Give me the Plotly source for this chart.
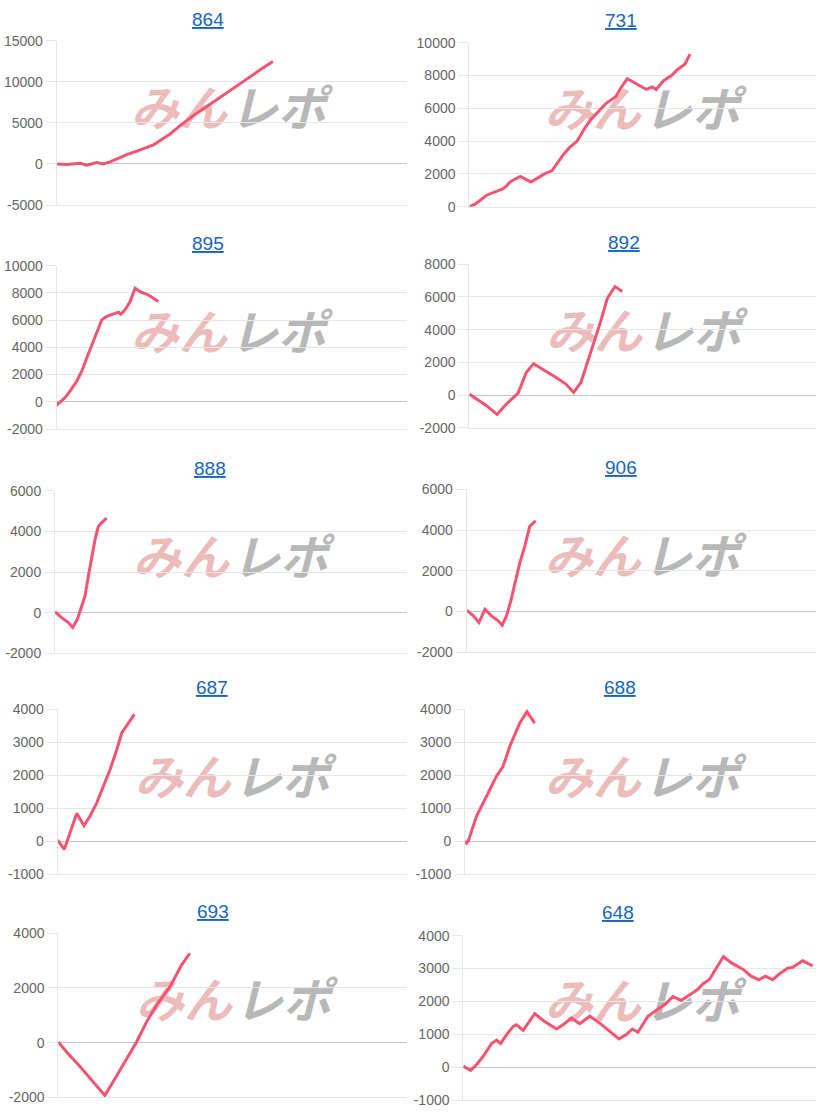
import plotly.graph_objects as go

W, H = 818, 1115

# ---------------- data (x = games, y = coin difference) ----------------
titles = ["864", "731", "895", "892", "888", "906", "687", "688", "693", "648"]

x_864 = [0, 257, 600, 771, 1029, 1200, 1371, 1543, 1800, 2057, 2314, 2486, 2657, 2914,
         3171, 3514, 3857, 4200, 4543, 4886, 5229, 5554]
y_864 = [0, -80, 80, -160, 160, 0, 240, 610, 1140, 1550, 2030, 2320, 2840, 3650,
         4670, 5890, 6980, 8120, 9260, 10350, 11450, 12460]

x_731 = [0, 150, 450, 620, 750, 880, 960, 1050, 1200, 1330, 1600, 1750, 1950, 2150, 2300,
         2450, 2600, 2800, 2900, 3000, 3150, 3350, 3550, 3800, 3950, 4100, 4300, 4600,
         4750, 4850, 5050, 5250, 5400, 5600, 5730]
y_731 = [0, 150, 700, 850, 1000, 1100, 1250, 1500, 1700, 1850, 1500, 1700, 2000, 2200, 2700,
         3200, 3600, 4000, 4400, 4800, 5300, 5800, 6300, 6700, 7300, 7800, 7550, 7150,
         7300, 7150, 7700, 8000, 8350, 8700, 9300]

x_895 = [0, 17, 214, 343, 514, 643, 771, 900, 1029, 1157, 1286, 1457, 1586, 1646, 1757,
         1886, 2014, 2143, 2357, 2614]
y_895 = [0, -200, 300, 780, 1510, 2240, 3220, 4200, 5170, 6020, 6270, 6440, 6590, 6440, 6760,
         7370, 8340, 8100, 7850, 7370]

x_892 = [0, 189, 447, 722, 963, 1264, 1479, 1668, 1908, 2252, 2510, 2708, 2897, 3026, 3198,
         3413, 3585, 3782, 3971]
y_892 = [60, -240, -650, -1190, -550, 100, 1380, 1920, 1580, 1070, 670, 160, 770, 1680, 2900,
         4520, 5930, 6640, 6340]

x_888 = [0, 170, 341, 452, 571, 656, 767, 852, 938, 1023, 1108, 1193, 1321]
y_888 = [50, -245, -490, -730, -330, 160, 815, 1790, 2770, 3590, 4240, 4430, 4650]

x_906 = [0, 171, 316, 470, 641, 812, 915, 1026, 1137, 1265, 1368, 1496, 1624, 1778]
y_906 = [65, -210, -540, 110, -210, -455, -670, -210, 520, 1580, 2390, 3200, 4180, 4455]

x_687 = [0, 172, 318, 490, 679, 834, 1006, 1178, 1350, 1521, 1650, 1822, 1977]
y_687 = [30, -250, 250, 840, 470, 760, 1160, 1660, 2170, 2770, 3280, 3580, 3850]

x_688 = [0, 40, 85, 297, 552, 807, 977, 1147, 1402, 1589, 1785]
y_688 = [0, -60, 0, 760, 1360, 1970, 2270, 2870, 3580, 3930, 3580]

x_693 = [0, 215, 559, 903, 1203, 1461, 1762, 2020, 2278, 2536, 2880, 3180, 3395]
y_693 = [25, -340, -870, -1440, -1930, -1320, -590, 25, 760, 1370, 2040, 2840, 3270]

x_648 = [0, 187, 340, 509, 722, 849, 951, 1104, 1274, 1358, 1528, 1825, 2038, 2377, 2547,
         2759, 2972, 3226, 3481, 3778, 3973, 4160, 4313, 4457, 4712, 4924, 5136, 5349,
         5561, 5816, 5985, 6113, 6283, 6452, 6639, 6834, 7132, 7344, 7539, 7709, 7896,
         8066, 8278, 8405, 8660, 8915]
y_648 = [30, -100, 80, 330, 720, 820, 720, 990, 1240, 1290, 1120, 1630, 1420, 1160, 1290,
         1490, 1320, 1550, 1340, 1060, 860, 990, 1160, 1060, 1550, 1730, 1900, 2150,
         2030, 2230, 2370, 2530, 2670, 3010, 3360, 3180, 2980, 2770, 2660, 2770, 2660,
         2840, 3010, 3040, 3240, 3080]

series_x = [x_864, x_731, x_895, x_892, x_888, x_906, x_687, x_688, x_693, x_648]
series_y = [y_864, y_731, y_895, y_892, y_888, y_906, y_687, y_688, y_693, y_648]

x_range = [0, 9000]
y_ranges = [[-5000, 15000], [0, 10000], [-2000, 10000], [-2000, 8000], [-2000, 6000],
            [-2000, 6000], [-1000, 4000], [-1000, 4000], [-2000, 4000], [-1000, 4000]]
y_dticks = [5000, 2000, 2000, 2000, 2000, 2000, 1000, 1000, 2000, 1000]

# ---------------- layout geometry (page pixels) ----------------
plot_boxes = [  # left, right, top, bottom
    (56.7, 407, 40.7, 205), (469.3, 816, 42.7, 206.7),
    (56.7, 407, 265.7, 429), (469.3, 816, 264.3, 427.7),
    (55, 407, 490.7, 653.3), (466.7, 816, 489.3, 652.3),
    (57.7, 407, 709.3, 874), (465, 816, 709.3, 874),
    (58.3, 407, 933.3, 1097.3), (463.3, 816, 935.7, 1100),
]
title_pos = [(208, 19), (620.5, 20.7), (208, 243.3), (623.7, 242.3), (210, 468.3),
             (620.8, 467.3), (211.7, 687.3), (620, 687.3), (212.7, 911.7), (618.3, 912.7)]
wm_boxes = [  # left, top, bottom of watermark logo
    (128, 95, 130), (541.7, 97, 130), (128, 319, 354), (543, 318, 353),
    (130, 544, 579), (541.7, 543, 578), (131.7, 764, 799),
    (541.7, 764, 799), (133, 987, 1022), (541.7, 988, 1023),
]

# observed mapping of the paper onto the photographed page
PAGE_TOP, PAGE_H = 8.0, 1099.0


def fx(px):
    return px / W


def fy(py):
    return 1 - (py - PAGE_TOP) / PAGE_H


LINE_COLOR = "rgb(244,84,114)"
GRID = "#e6e6e6"
TICK_FONT = dict(family="Liberation Sans, Arial, sans-serif", size=14, color="#666666")

fig = go.Figure()
annotations = []
shapes = []

for i in range(10):
    n = "" if i == 0 else str(i + 1)
    l, r, t, b = plot_boxes[i]
    lo, hi = y_ranges[i]
    tvals = list(range(lo, hi + 1, y_dticks[i]))
    fig.add_trace(go.Scatter(
        x=series_x[i], y=series_y[i], mode="lines",
        line=dict(color=LINE_COLOR, width=3), xaxis="x" + n, yaxis="y" + n,
        hoverinfo="skip", showlegend=False,
    ))
    fig.layout["xaxis" + n] = dict(
        domain=[fx(l), fx(r)], range=x_range, anchor="y" + n,
        showgrid=False, zeroline=False, showticklabels=False,
        showline=True, linecolor=GRID, linewidth=1, ticks="", fixedrange=True,
    )
    fig.layout["yaxis" + n] = dict(
        domain=[fy(b), fy(t)], range=y_ranges[i], anchor="x" + n,
        tickmode="array", tickvals=tvals, ticktext=[str(v) for v in tvals],
        showgrid=True, gridcolor=GRID, gridwidth=1,
        zeroline=True, zerolinecolor="#c4c4c4", zerolinewidth=1,
        showline=True, linecolor=GRID, linewidth=1,
        ticks="outside", ticklen=10, tickcolor=GRID, tickfont=TICK_FONT,
        fixedrange=True,
    )
    cx, cy = title_pos[i]
    annotations.append(dict(
        text="<u>" + titles[i] + "</u>", x=fx(cx), y=fy(cy), xref="paper", yref="paper",
        xanchor="center", yanchor="middle", showarrow=False,
        font=dict(family="Liberation Sans, Arial, sans-serif", size=19, color="#1565c0"),
    ))
    wl, wt, wb = wm_boxes[i]
    for (c, txt, col) in [(wl + 51, "みん", "#ecbcbc"), (wl + 150, "レポ", "#b8b8b8")]:
        shapes.append(dict(
            type="rect", xref="paper", yref="paper",
            x0=fx(c - 50), x1=fx(c + 50), y0=fy(wb), y1=fy(wt),
            line=dict(width=0), fillcolor="rgba(0,0,0,0)", layer="below",
            label=dict(text=txt, textposition="middle center",
                       font=dict(family="Noto Sans CJK JP", size=48, color=col,
                                 weight="bold", style="italic")),
        ))

fig.update_layout(
    width=W, height=H, margin=dict(l=0, r=0, t=0, b=0),
    paper_bgcolor="white", plot_bgcolor="rgba(0,0,0,0)",
    showlegend=False, annotations=annotations, shapes=shapes,
)

fig.write_html("out.html", config={"displayModeBar": False},
               post_script="document.body.style.margin='0';")
